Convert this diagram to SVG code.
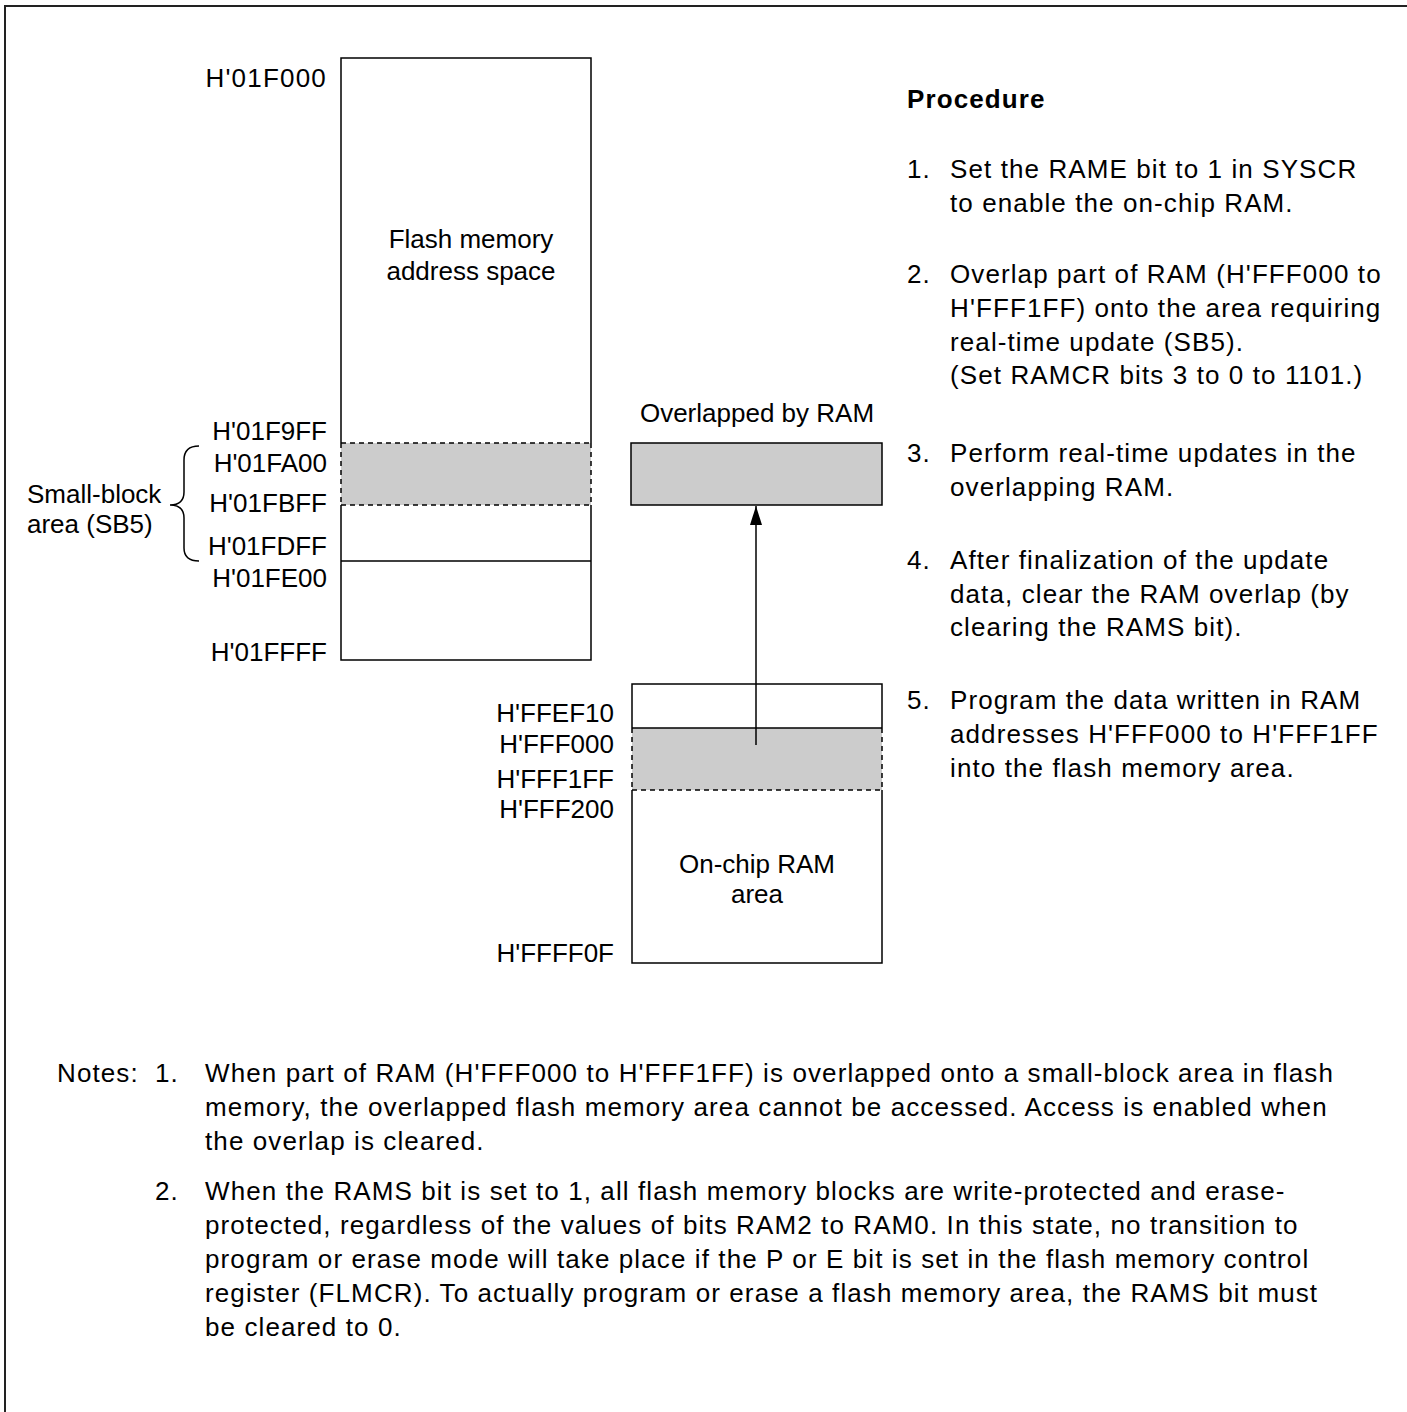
<svg xmlns="http://www.w3.org/2000/svg" width="1407" height="1412" viewBox="0 0 1407 1412">
<style>
text{font-family:"Liberation Sans",Arial,sans-serif;font-size:26px;fill:#000}
.r{text-anchor:end}
.m{text-anchor:middle}
.b{font-weight:bold}
.w{letter-spacing:1.1px}
.s{fill:none;stroke:#000;stroke-width:1.5}
.d{fill:none;stroke:#000;stroke-width:1.5;stroke-dasharray:5,4}
.g{fill:#cccccc;stroke:none}
</style>
<defs>
<marker id="ah" markerWidth="20" markerHeight="12" refX="19" refY="6" orient="auto" markerUnits="userSpaceOnUse" viewBox="0 0 20 12">
<path d="M0,0 L19,6 L0,12 Z" fill="#000"/>
</marker>
</defs>
<rect x="5" y="6" width="1420" height="1420" fill="none" stroke="#222" stroke-width="2"/>

<g id="flash">
<rect class="g" x="341" y="443" width="250" height="62"/>
<path class="s" d="M341,443 L341,58 L591,58 L591,443 M341,505 L341,660 L591,660 L591,505 M341,561 L591,561"/>
<path class="d" d="M341,443 L591,443 M341,505 L591,505 M341,443 L341,505 M591,443 L591,505"/>
<text class="m" x="471" y="248">Flash memory</text>
<text class="m" x="471" y="280">address space</text>
<text class="r" x="327" y="87" style="letter-spacing:1.2px">H'01F000</text>
<text class="r" x="327" y="440">H'01F9FF</text>
<text class="r" x="327" y="472">H'01FA00</text>
<text class="r" x="327" y="512">H'01FBFF</text>
<text class="r" x="327" y="555">H'01FDFF</text>
<text class="r" x="327" y="587">H'01FE00</text>
<text class="r" x="327" y="661">H'01FFFF</text>
</g>

<g id="sb5">
<path class="s" d="M199,446 Q184,446 184,460 L184,492 Q184,505 170,505 Q184,505 184,518 L184,548 Q184,561 199,561"/>
<text x="27" y="503">Small-block</text>
<text x="27" y="533">area (SB5)</text>
</g>

<g id="overlap">
<rect x="631" y="443" width="251" height="62" fill="#cccccc" stroke="#000" stroke-width="1.5"/>
<text class="m" x="757" y="422">Overlapped by RAM</text>
</g>

<g id="ram">
<rect class="g" x="632" y="728" width="250" height="62"/>
<path class="s" d="M632,728 L632,684 L882,684 L882,728 M632,790 L632,963 L882,963 L882,790 M632,728 L882,728"/>
<path class="d" d="M632,790 L882,790 M632,728 L632,790 M882,728 L882,790"/>
<text class="m" x="757" y="873">On-chip RAM</text>
<text class="m" x="757" y="903">area</text>
<text class="r" x="614" y="722">H'FFEF10</text>
<text class="r" x="614" y="753">H'FFF000</text>
<text class="r" x="614" y="788">H'FFF1FF</text>
<text class="r" x="614" y="818">H'FFF200</text>
<text class="r" x="614" y="962">H'FFFF0F</text>
</g>

<g id="connectors">
<line x1="756" y1="745" x2="756" y2="506" stroke="#000" stroke-width="1.5" marker-end="url(#ah)"/>
</g>

<g id="procedure">
<text class="b w" x="907" y="108">Procedure</text>
<text class="w" x="907" y="178">1.</text>
<text class="w" x="950" y="178">Set the RAME bit to 1 in SYSCR</text>
<text class="w" x="950" y="212">to enable the on-chip RAM.</text>
<text class="w" x="907" y="283">2.</text>
<text class="w" x="950" y="283">Overlap part of RAM (H'FFF000 to</text>
<text class="w" x="950" y="317">H'FFF1FF) onto the area requiring</text>
<text class="w" x="950" y="351">real-time update (SB5).</text>
<text class="w" x="950" y="384">(Set RAMCR bits 3 to 0 to 1101.)</text>
<text class="w" x="907" y="462">3.</text>
<text class="w" x="950" y="462">Perform real-time updates in the</text>
<text class="w" x="950" y="496">overlapping RAM.</text>
<text class="w" x="907" y="569">4.</text>
<text class="w" x="950" y="569">After finalization of the update</text>
<text class="w" x="950" y="603">data, clear the RAM overlap (by</text>
<text class="w" x="950" y="636">clearing the RAMS bit).</text>
<text class="w" x="907" y="709">5.</text>
<text class="w" x="950" y="709">Program the data written in RAM</text>
<text class="w" x="950" y="743">addresses H'FFF000 to H'FFF1FF</text>
<text class="w" x="950" y="777">into the flash memory area.</text>
</g>

<g id="notes">
<text class="w" x="57" y="1082">Notes:</text>
<text class="w" x="155" y="1082">1.</text>
<text class="w" x="205" y="1082">When part of RAM (H'FFF000 to H'FFF1FF) is overlapped onto a small-block area in flash</text>
<text class="w" x="205" y="1116">memory, the overlapped flash memory area cannot be accessed. Access is enabled when</text>
<text class="w" x="205" y="1150">the overlap is cleared.</text>
<text class="w" x="155" y="1200">2.</text>
<text class="w" x="205" y="1200">When the RAMS bit is set to 1, all flash memory blocks are write-protected and erase-</text>
<text class="w" x="205" y="1234">protected, regardless of the values of bits RAM2 to RAM0. In this state, no transition to</text>
<text class="w" x="205" y="1268">program or erase mode will take place if the P or E bit is set in the flash memory control</text>
<text class="w" x="205" y="1302">register (FLMCR). To actually program or erase a flash memory area, the RAMS bit must</text>
<text class="w" x="205" y="1336">be cleared to 0.</text>
</g>
</svg>
